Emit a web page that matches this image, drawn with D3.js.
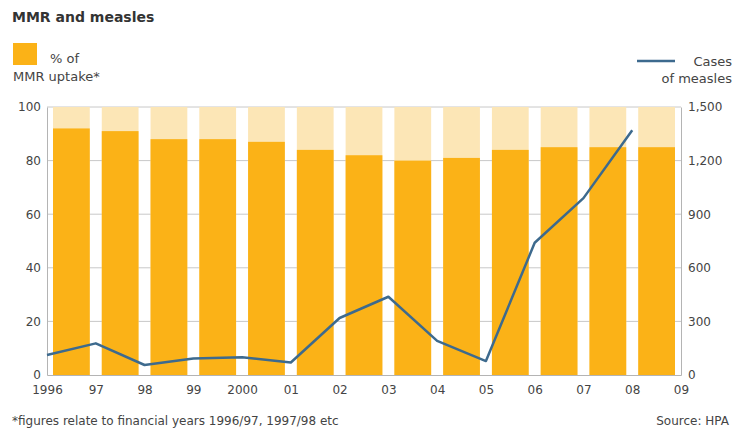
<!DOCTYPE html>
<html>
<head>
<meta charset="utf-8">
<script src="https://cdn.jsdelivr.net/npm/d3@7"></script>
<style>
  body { margin: 0; background: #fff; }
  text { font-family: Verdana, "DejaVu Sans", sans-serif; fill: #444; }
  #title { font-size: 14px; font-weight: bold; fill: #333; }
  .axis text { font-size: 12px; fill: #444; }
  .axis path, .axis line { stroke: #b4b4b4; }
  .grid line { stroke: #c8c8c8; }
  .legend_label { font-size: 13px; }
  .note { font-size: 12px; }
</style>
</head>
<body>
<div id="chart"></div>
<script>
var width = 736, height = 431;
var margin = {top: 107, bottom: 56, left: 47, right: 55};

// data
var years = [1996, 1997, 1998, 1999, 2000, 2001, 2002, 2003, 2004, 2005, 2006, 2007, 2008];
var uptake = [92, 91, 88, 88, 87, 84, 82, 80, 81, 84, 85, 85, 85];
var measles = [112, 177, 56, 92, 100, 70, 319, 438, 191, 78, 740, 990, 1370];
var leftTicks = [0, 20, 40, 60, 80, 100];
var rightTicks = [0, 300, 600, 900, 1200, 1500];
var yearLabels = ["1996", "97", "98", "99", "2000", "01", "02", "03", "04", "05", "06", "07", "08", "09"];

var svg = d3.select("#chart")
            .append("svg")
            .attr("width", width)
            .attr("height", height);

var plotBottom = height - margin.bottom;

// x scale on years, bars fill the span year -> year+1
var xScale = d3.scaleLinear()
               .domain([1996, 2009])
               .range([margin.left, width - margin.right]);

var barGap = 6;

var yLeft = d3.scaleLinear()
              .domain([0, 100])
              .range([plotBottom, margin.top]);

var yRight = d3.scaleLinear()
               .domain([0, 1500])
               .range([plotBottom, margin.top]);

// gridlines
svg.append("g")
   .attr("class", "grid")
   .selectAll("line")
   .data(leftTicks.slice(1))
   .enter()
   .append("line")
   .attr("x1", xScale(1996))
   .attr("x2", xScale(2009))
   .attr("y1", function(d) { return yLeft(d); })
   .attr("y2", function(d) { return yLeft(d); });

// pale background bars (to 100%)
svg.selectAll(".bar_bg")
   .data(years)
   .enter()
   .append("rect")
   .attr("class", "bar_bg")
   .attr("x", function(d) { return xScale(d) + barGap; })
   .attr("y", yLeft(100))
   .attr("width", function(d) { return xScale(d + 1) - xScale(d) - barGap * 2; })
   .attr("height", yLeft(0) - yLeft(100))
   .style("fill", "#fce6b6");

// uptake bars
svg.selectAll(".bar")
   .data(years)
   .enter()
   .append("rect")
   .attr("class", "bar")
   .attr("x", function(d) { return xScale(d) + barGap; })
   .attr("y", function(d, i) { return yLeft(uptake[i]); })
   .attr("width", function(d) { return xScale(d + 1) - xScale(d) - barGap * 2; })
   .attr("height", function(d, i) { return yLeft(0) - yLeft(uptake[i]); })
   .style("fill", "#fbb217");

// Left axis
var yAxisLeft = d3.axisLeft(yLeft)
                  .tickValues(leftTicks)
                  .tickSize(0)
                  .tickPadding(6);

svg.append("g")
   .attr("class", "axis")
   .attr("transform", "translate(" + xScale(1996) + ",0)")
   .call(yAxisLeft);

// Right axis
var yAxisRight = d3.axisRight(yRight)
                   .tickValues(rightTicks)
                   .tickFormat(d3.format(","))
                   .tickSize(0)
                   .tickPadding(7);

svg.append("g")
   .attr("class", "axis")
   .attr("transform", "translate(" + xScale(2009) + ",0)")
   .call(yAxisRight);

// X axis
var xAxis = d3.axisBottom(xScale)
              .tickValues(d3.range(1996, 2010))
              .tickFormat(function(d, i) { return yearLabels[i]; })
              .tickSize(0)
              .tickPadding(10);

svg.append("g")
   .attr("class", "axis")
   .attr("transform", "translate(0," + plotBottom + ")")
   .call(xAxis);

// measles line
var line = d3.line()
             .x(function(d, i) { return xScale(years[i]); })
             .y(function(d) { return yRight(d); });

svg.append("path")
   .datum(measles)
   .attr("d", line)
   .attr("fill", "none")
   .attr("stroke", "#3d6a8e")
   .attr("stroke-width", 2.5)
   .attr("stroke-linejoin", "round");

// Title
svg.append("text")
   .attr("id", "title")
   .attr("x", 12)
   .attr("y", 22)
   .text("MMR and measles");

// Legends
svg.append("rect")
   .attr("x", 13)
   .attr("y", 43)
   .attr("width", 24)
   .attr("height", 22)
   .style("fill", "#fbb217");

svg.append("text")
   .attr("class", "legend_label")
   .attr("x", 50)
   .attr("y", 63)
   .text("% of");

svg.append("text")
   .attr("class", "legend_label")
   .attr("x", 13)
   .attr("y", 81)
   .text("MMR uptake*");

svg.append("line")
   .attr("x1", 637)
   .attr("x2", 675)
   .attr("y1", 61)
   .attr("y2", 61)
   .attr("stroke", "#3d6a8e")
   .attr("stroke-width", 2.5);

svg.append("text")
   .attr("class", "legend_label")
   .attr("x", 732)
   .attr("y", 66)
   .attr("text-anchor", "end")
   .text("Cases");

svg.append("text")
   .attr("class", "legend_label")
   .attr("x", 732)
   .attr("y", 83)
   .attr("text-anchor", "end")
   .text("of measles");

// Footnote and source
svg.append("text")
   .attr("class", "note")
   .attr("x", 12)
   .attr("y", 425)
   .attr("font-size", 12)
   .text("*figures relate to financial years 1996/97, 1997/98 etc");

svg.append("text")
   .attr("class", "note")
   .attr("x", 729)
   .attr("y", 425)
   .attr("text-anchor", "end")
   .text("Source: HPA");
</script>
</body>
</html>
